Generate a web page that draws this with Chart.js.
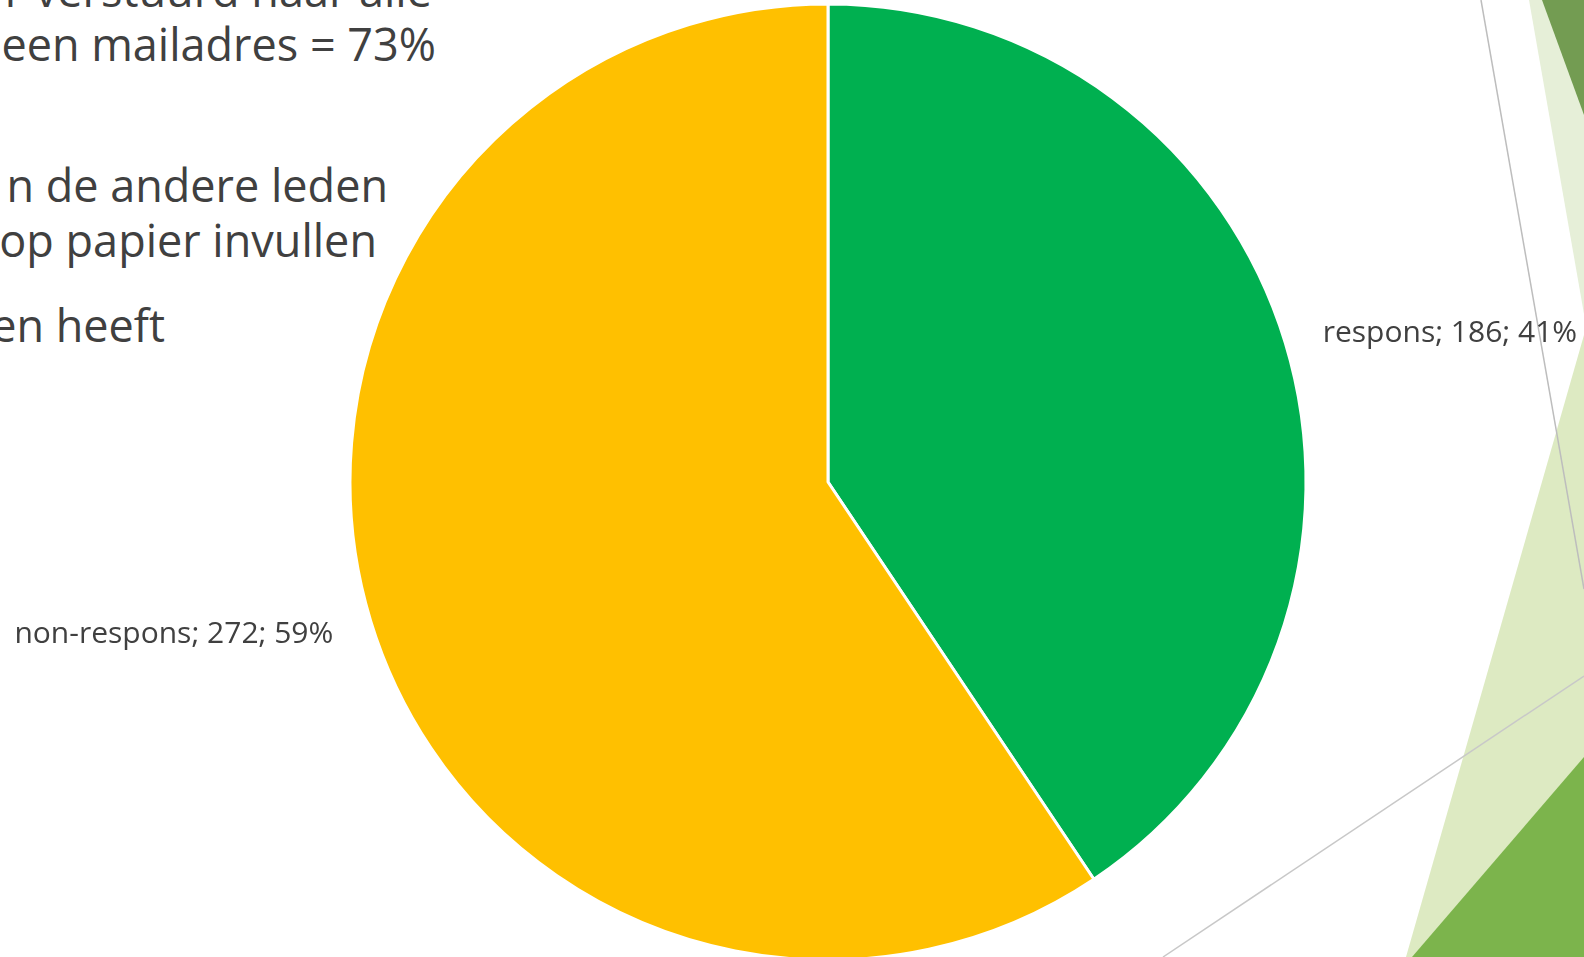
<!DOCTYPE html>
<html>
<head>
<meta charset="utf-8">
<script src="https://cdn.jsdelivr.net/npm/chart.js@4/dist/chart.umd.min.js"></script>
<style>
    html, body { margin: 0; padding: 0; background: #fff; overflow: hidden; }
    #slide { position: relative; width: 1584px; height: 957px; overflow: hidden; }
    #deco { position: absolute; left: 0; top: 0; }
    .line {
        position: absolute; left: -600px; white-space: nowrap; text-align: right;
        font-family: "Open Sans", sans-serif; font-size: 45px; line-height: 45px; color: #404040;
    }
    #pie { position: absolute; left: 0; top: 0; }
</style>
</head>
<body>
<div id="slide">
    <svg id="deco" width="1584" height="957">
        <polygon points="1529,0 1584,0 1584,314" fill="#e6efd8"/>
        <polygon points="1542,0 1584,0 1584,115" fill="#739c52"/>
        <polygon points="1584,335 1406,957 1584,957" fill="#ddeac2"/>
        <polygon points="1584,757 1412,957 1584,957" fill="#7cb44c"/>
        <line x1="1481" y1="0" x2="1584" y2="589" stroke="#bdbdbd" stroke-width="1.5"/>
        <line x1="1163" y1="957" x2="1584" y2="676" stroke="#c8c8c8" stroke-width="1.5"/>
    </svg>
    <div class="line" style="top:-33px; width:1032px;">r verstuurd naar alle</div>
    <div class="line" style="top:21px; width:1036px;">een mailadres = 73%</div>
    <div class="line" style="top:162px; width:988px;">n de andere leden</div>
    <div class="line" style="top:217px; width:977px;">op papier invullen</div>
    <div class="line" style="top:302px; width:765px;">en heeft</div>
    <canvas id="pie" width="1584" height="957"></canvas>
</div>
<script>
    const categories = ['respons', 'non-respons'];
    const counts = [186, 272];
    const percents = [41, 59];
    const colors = ['#00b050', '#ffc000'];

    // labels outside the pie: "name; value; pct%"
    const outsideLabels = {
        id: 'outsideLabels',
        afterDatasetsDraw(chart) {
            const ctx = chart.ctx;
            const meta = chart.getDatasetMeta(0);
            ctx.save();
            ctx.font = '30px "Open Sans", sans-serif';
            ctx.fillStyle = '#404040';
            ctx.textBaseline = 'middle';
            meta.data.forEach((arc, i) => {
                const mid = (arc.startAngle + arc.endAngle) / 2;
                const r = arc.outerRadius + 39;
                const x = arc.x + Math.cos(mid) * r;
                const y = arc.y + Math.sin(mid) * r + 2;
                ctx.textAlign = Math.cos(mid) >= 0 ? 'left' : 'right';
                ctx.fillText(categories[i] + '; ' + counts[i] + '; ' + percents[i] + '%', x, y);
            });
            ctx.restore();
        }
    };

    new Chart(document.getElementById('pie'), {
        type: 'pie',
        data: {
            labels: categories,
            datasets: [{
                data: counts,
                backgroundColor: colors,
                borderColor: '#ffffff',
                borderWidth: 3
            }]
        },
        options: {
            responsive: false,
            animation: false,
            radius: 478,
            layout: { padding: { left: 72, right: 0, top: 7, bottom: 0 } },
            plugins: {
                legend: { display: false },
                tooltip: { enabled: false }
            }
        },
        plugins: [outsideLabels]
    });
</script>
</body>
</html>
